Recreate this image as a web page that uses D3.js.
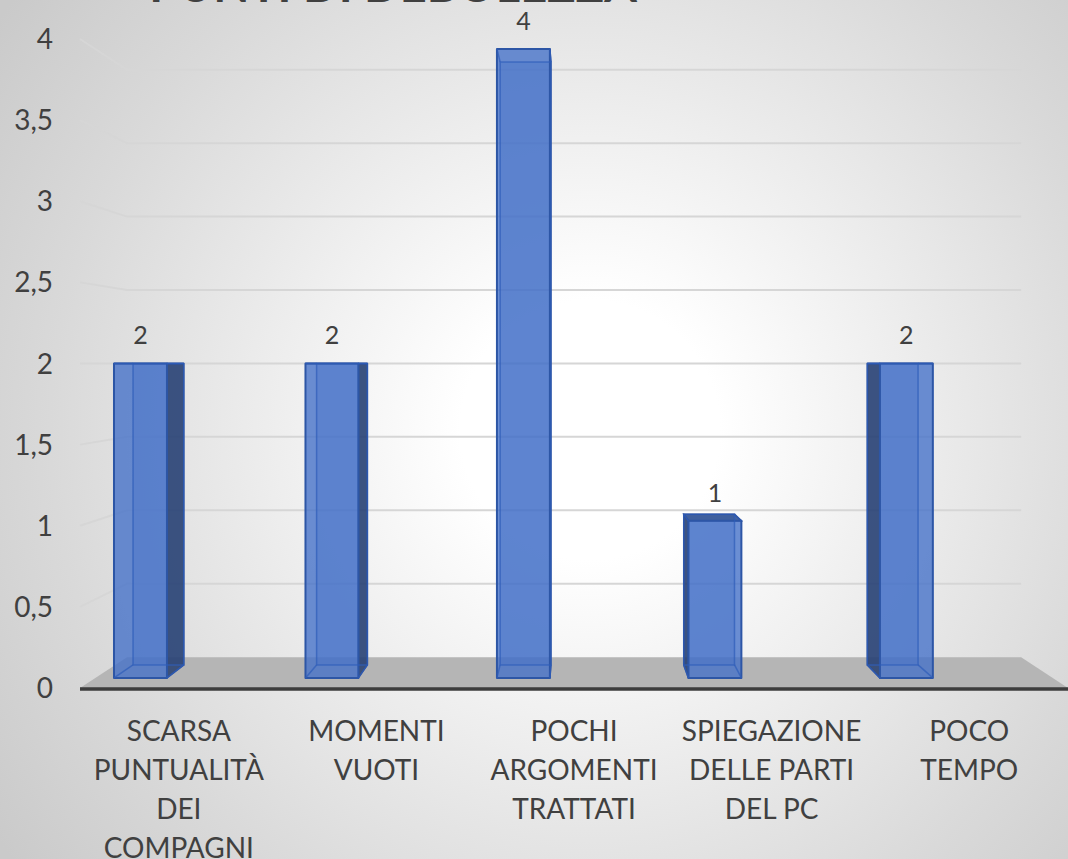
<!DOCTYPE html>
<html>
<head>
<meta charset="utf-8">
<script src="https://cdn.jsdelivr.net/npm/d3@7"></script>
<style>
html,body{margin:0;padding:0;background:#fff;}
svg{display:block;}
</style>
</head>
<body>
<svg id="chart" width="1068" height="859"></svg>
<script>
// ---- data ----
const title = "PUNTI DI DEBOLEZZA";
const categories = [
  "SCARSA\nPUNTUALITÀ\nDEI\nCOMPAGNI",
  "MOMENTI\nVUOTI",
  "POCHI\nARGOMENTI\nTRATTATI",
  "SPIEGAZIONE\nDELLE PARTI\nDEL PC",
  "POCO\nTEMPO"
];
const values = [2, 2, 4, 1, 2];
const yTicks = [0, 0.5, 1, 1.5, 2, 2.5, 3, 3.5, 4];
const yTickLabels = ["0", "0,5", "1", "1,5", "2", "2,5", "3", "3,5", "4"];

// ---- setup ----
const W = 1068, H = 859;
const svg = d3.select("#chart");
const FONT = "Lato, 'Open Sans', sans-serif";
const TXT = "#404040";

const x = d3.scaleBand().domain(categories).range([80, 1068]).padding(0);
const y = d3.scaleLinear().domain([0, 4]).range([688, 39]);

// perspective projection toward vanishing point
const VP = [575, 363];
const P = (x0, y0, d) => [x0 + (VP[0] - x0) * d, y0 + (VP[1] - y0) * d];
const WALL = 0.095, D1 = 0.031, D2 = 0.071;

// background
const defs = svg.append("defs");
const rg = defs.append("radialGradient").attr("id", "bg")
  .attr("gradientUnits", "userSpaceOnUse")
  .attr("cx", 590).attr("cy", 430).attr("r", 720);
rg.append("stop").attr("offset", 0).attr("stop-color", "#ffffff");
rg.append("stop").attr("offset", 0.18).attr("stop-color", "#ffffff");
rg.append("stop").attr("offset", 0.75).attr("stop-color", "#d9d9d9");
rg.append("stop").attr("offset", 1).attr("stop-color", "#cacaca");
svg.append("rect").attr("width", W).attr("height", H).attr("fill", "url(#bg)");

// title (cut off at top)
svg.append("text").attr("x", 393).attr("y", 2)
  .attr("text-anchor", "middle").attr("font-family", FONT)
  .attr("font-weight", "bold").attr("font-size", 47).attr("fill", TXT)
  .text(title);

// floor
const [x0, x1] = x.range();
const floorPts = [P(x0, y(0), 0), P(x1, y(0), 0), P(x1, y(0), WALL), P(x0, y(0), WALL)];
svg.append("polygon").attr("points", floorPts.map(p => p.join(",")).join(" "))
  .attr("fill", "#b5b5b5");

// gridlines: back wall + left wall
const grid = svg.append("g").attr("stroke", "#d6d6d6").attr("stroke-width", 2).attr("fill", "none");
yTicks.forEach(v => {
  if (v === 0) return;
  const a = P(x0, y(v), 0), b = P(x0, y(v), WALL), c = P(x1, y(v), WALL);
  grid.append("polyline").attr("points", [a, b, c].map(p => p.join(",")).join(" "));
});

// floor front line
svg.append("line").attr("x1", x0).attr("x2", x1).attr("y1", y(0) + 1).attr("y2", y(0) + 1)
  .attr("stroke", "#3d3d3d").attr("stroke-width", 3.5);

// y tick labels
svg.append("g").selectAll("text").data(yTicks).join("text")
  .attr("x", 53).attr("y", v => y(v) + 10)
  .attr("text-anchor", "end").attr("font-family", FONT).attr("font-size", 28)
  .attr("fill", TXT).text((v, i) => yTickLabels[i]);

// bars
const bw = x.bandwidth();
const bars = svg.append("g");
const poly = pts => pts.map(p => p.join(",")).join(" ");
categories.forEach((c, i) => {
  const v = values[i];
  const L = x(c) + bw * 0.0974, R = x(c) + bw * 0.374;
  const T = y(v), B = y(0);
  const fTL = P(L, T, D1), fTR = P(R, T, D1), fBL = P(L, B, D1), fBR = P(R, B, D1);
  const bTL = P(L, T, D2), bTR = P(R, T, D2), bBL = P(L, B, D2), bBR = P(R, B, D2);
  const g = bars.append("g");
  // back face
  g.append("polygon").attr("points", poly([bTL, bTR, bBR, bBL]))
    .attr("fill", "rgba(66,110,196,0.35)");
  // visible side face
  const cx = (fTL[0] + fTR[0]) / 2;
  const side = cx < VP[0] ? [fTR, bTR, bBR, fBR] : [fTL, bTL, bBL, fBL];
  g.append("polygon").attr("points", poly(side))
    .attr("fill", "rgba(38,62,112,0.85)").attr("stroke", "#2c4f96").attr("stroke-width", 1.5)
    .attr("stroke-linejoin", "round");
  // top face if visible from above
  if (T > VP[1]) {
    g.append("polygon").attr("points", poly([fTL, fTR, bTR, bTL]))
      .attr("fill", "rgba(50,84,150,0.9)").attr("stroke", "#2c4f96").attr("stroke-width", 1.5);
  }
  // front face
  g.append("polygon").attr("points", poly([fTL, fTR, fBR, fBL]))
    .attr("fill", "rgba(66,112,200,0.78)").attr("stroke", "#2d56a6").attr("stroke-width", 2)
    .attr("stroke-linejoin", "round");
  // hidden edges seen through
  const hid = g.append("g").attr("stroke", "rgba(45,92,185,0.7)").attr("stroke-width", 1.5).attr("fill", "none");
  hid.append("polygon").attr("points", poly([bTL, bTR, bBR, bBL]));
  [[fTL, bTL], [fTR, bTR], [fBL, bBL], [fBR, bBR]].forEach(([a, b]) =>
    hid.append("line").attr("x1", a[0]).attr("y1", a[1]).attr("x2", b[0]).attr("y2", b[1]));
  // data label
  svg.append("text").attr("x", (fTL[0] + fTR[0]) / 2).attr("y", fTL[1] - 19)
    .attr("text-anchor", "middle").attr("font-family", FONT).attr("font-size", 25)
    .attr("fill", TXT).text(v);
});

// category labels
const cat = svg.append("g");
categories.forEach(c => {
  const t = cat.append("text").attr("text-anchor", "middle")
    .attr("font-family", FONT).attr("font-size", 28).attr("fill", TXT);
  c.split("\n").forEach((line, j) => {
    t.append("tspan").attr("x", x(c) + bw / 2).attr("y", 741 + j * 39).text(line);
  });
});
</script>
</body>
</html>
